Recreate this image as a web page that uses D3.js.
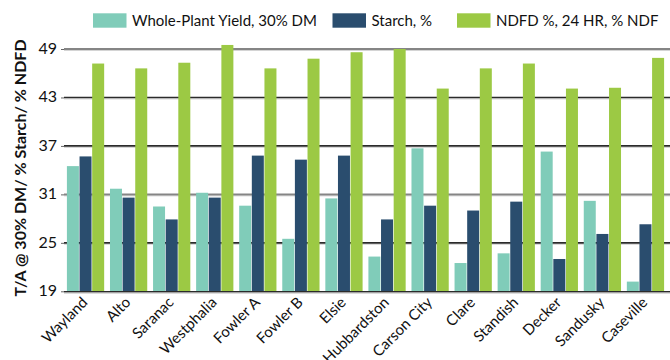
<!DOCTYPE html>
<html>
<head>
<meta charset="utf-8">
<script src="https://cdn.jsdelivr.net/npm/d3@7"></script>
<style>
  html, body { margin: 0; padding: 0; background: #fff; }
  svg { display: block; }
  text { font-family: Lato, "Noto Sans", sans-serif; fill: #111; }
</style>
</head>
<body>
<svg id="chart" width="670" height="360"></svg>
<script>
const categories = ["Wayland", "Alto", "Saranac", "Westphalia", "Fowler A", "Fowler B", "Elsie",
  "Hubbardston", "Carson City", "Clare", "Standish", "Decker", "Sandusky", "Caseville"];
const seriesNames = ["Whole-Plant Yield, 30% DM", "Starch, %", "NDFD %, 24 HR, % NDF"];
const yieldValues = [34.5, 31.7, 29.5, 31.2, 29.6, 25.5, 30.5, 23.3, 36.7, 22.5, 23.7, 36.3, 30.2, 20.2];
const starchValues = [35.7, 30.6, 27.9, 30.6, 35.8, 35.3, 35.8, 27.9, 29.6, 29.0, 30.1, 23.0, 26.1, 27.3];
const ndfdValues = [47.2, 46.6, 47.3, 49.5, 46.6, 47.8, 48.6, 49.0, 44.1, 46.6, 47.2, 44.1, 44.2, 47.9];
const yTicks = [19, 25, 31, 37, 43, 49];
const colors = ["#80CCB9", "#2A4D6E", "#9CC944"];
const yTitle = "T/A @ 30% DM/ % Starch/ % NDFD";

const series = [yieldValues, starchValues, ndfdValues];
const svg = d3.select("#chart");

const x0 = d3.scaleBand().domain(categories).range([64, 667]).paddingInner(0.135).paddingOuter(0.0675);
const x1 = d3.scaleBand().domain(d3.range(series.length)).range([0, x0.bandwidth()]).paddingInner(0.05);
const y = d3.scaleLinear().domain([19, 49]).range([291.3, 49]);

// gridlines
const grid = svg.append("g");
yTicks.forEach((t) => {
  if (t === 19) return;
  const yy = y(t);
  const light = (t === 49 || t === 31);
  grid.append("line").attr("x1", 64).attr("x2", 670).attr("y1", yy + 1.5).attr("y2", yy + 1.5)
    .attr("stroke", "#d4d4d4").attr("stroke-width", 1);
  grid.append("line").attr("x1", 64).attr("x2", 670).attr("y1", yy).attr("y2", yy)
    .attr("stroke", light ? "#858585" : "#2b2b2b").attr("stroke-width", light ? 2 : 1.6);
});

// bars
const groups = svg.append("g").selectAll("g").data(categories).join("g")
  .attr("transform", d => `translate(${x0(d)},0)`);
groups.selectAll("rect").data((d, i) => series.map((s, k) => ({k, v: s[i]}))).join("rect")
  .attr("x", d => x1(d.k))
  .attr("width", x1.bandwidth())
  .attr("y", d => y(d.v))
  .attr("height", d => y(19) - y(d.v))
  .attr("fill", d => colors[d.k]);

// baseline
svg.append("line").attr("x1", 64).attr("x2", 670).attr("y1", y(19) + 0.5).attr("y2", y(19) + 0.5)
  .attr("stroke", "#2b2b2b").attr("stroke-width", 1.6);
svg.append("line").attr("x1", 64).attr("x2", 670).attr("y1", y(19) + 2).attr("y2", y(19) + 2)
  .attr("stroke", "#d4d4d4").attr("stroke-width", 1);

// y axis
const yAxis = d3.axisLeft(y).tickValues(yTicks).tickSize(3).tickPadding(4).tickFormat(d3.format("d"));
const ya = svg.append("g").attr("transform", "translate(64,0)").call(yAxis);
ya.select(".domain").remove();
ya.selectAll(".tick line").attr("stroke", "#666");
ya.selectAll(".tick text").attr("font-size", 16).attr("font-family", "Lato, sans-serif").attr("fill", "#111").attr("dy", "0.28em");

// x axis labels
const xAxis = d3.axisBottom(x0).tickSize(0).tickPadding(0);
const xa = svg.append("g").attr("transform", `translate(0,${y(19)})`).call(xAxis);
xa.select(".domain").remove();
xa.selectAll(".tick text")
  .attr("font-size", 15).attr("font-family", "Lato, sans-serif").attr("fill", "#111")
  .attr("text-anchor", "end")
  .attr("dy", 0).attr("y", 0)
  .attr("transform", "translate(3,12) rotate(-45)");

// y title
svg.append("text")
  .attr("transform", "translate(26,168) rotate(-90)")
  .attr("text-anchor", "middle")
  .attr("font-size", 16).attr("font-weight", "bold")
  .text(yTitle);

// legend
const legendX = [93, 332.5, 457];
const leg = svg.append("g");
seriesNames.forEach((name, k) => {
  leg.append("rect").attr("x", legendX[k]).attr("y", 13.3).attr("width", 33.5).attr("height", 14.4).attr("fill", colors[k]);
  leg.append("text").attr("x", legendX[k] + 39).attr("y", 25.5).attr("font-size", 15).text(name);
});
</script>
</body>
</html>
